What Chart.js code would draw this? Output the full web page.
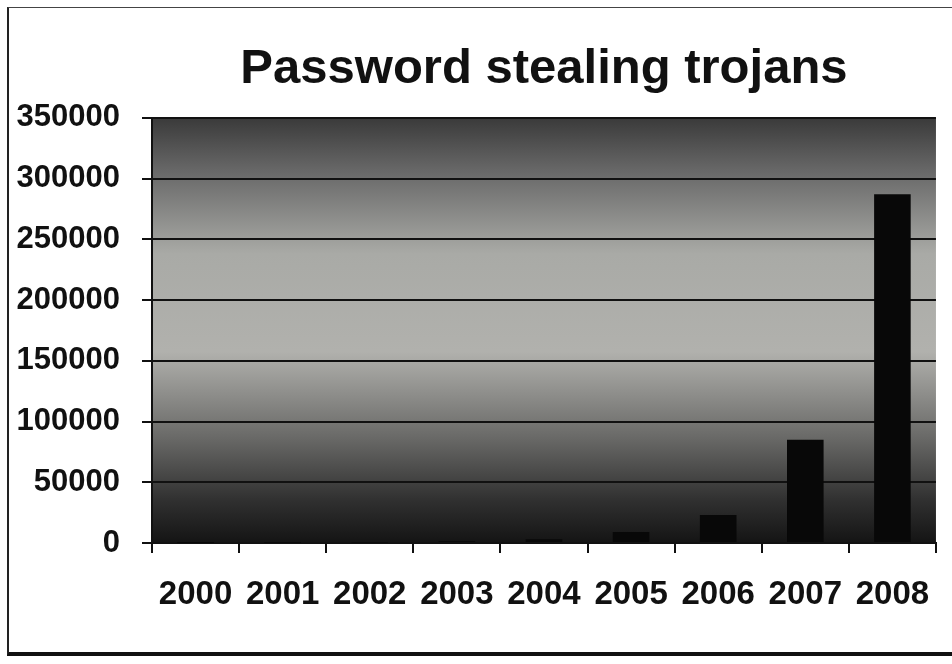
<!DOCTYPE html>
<html>
<head>
<meta charset="utf-8">
<script src="https://cdn.jsdelivr.net/npm/chart.js@4/dist/chart.umd.min.js"></script>
<style>
  html, body { margin: 0; padding: 0; background: #fff; }
  #wrap { position: relative; width: 952px; height: 664px; }
  #frame {
    position: absolute; left: 7px; top: 7px; width: 960px; height: 644px;
    border-left: 2px solid #222; border-top: 1px solid #444; border-bottom: 4px solid #111;
    pointer-events: none;
  }
</style>
</head>
<body>
<div id="wrap">
  <canvas id="chart"></canvas>
  <div id="frame"></div>
</div>
<script>
const years = ["2000", "2001", "2002", "2003", "2004", "2005", "2006", "2007", "2008"];
const trojans = [100, 200, 500, 1500, 3000, 9000, 23000, 85000, 287000];
const yTicks = [0, 50000, 100000, 150000, 200000, 250000, 300000, 350000];

const plotBackground = {
  id: "plotBackground",
  beforeDraw(chart) {
    const { ctx, chartArea: a } = chart;
    const g = ctx.createLinearGradient(0, a.top, 0, a.bottom);
    g.addColorStop(0, "#3a3a3a");
    g.addColorStop(0.12, "#666666");
    g.addColorStop(0.32, "#a9aaa6");
    g.addColorStop(0.55, "#b1b1ad");
    g.addColorStop(0.75, "#6a6a68");
    g.addColorStop(0.9, "#303030");
    g.addColorStop(1, "#141414");
    ctx.save();
    ctx.fillStyle = g;
    ctx.fillRect(a.left, a.top, a.right - a.left, a.bottom - a.top);
    ctx.restore();
  },
};

new Chart(document.getElementById("chart"), {
  type: "bar",
  data: {
    labels: years,
    datasets: [
      {
        label: "Password stealing trojans",
        data: trojans,
        backgroundColor: "#080808",
        barPercentage: 0.42,
        categoryPercentage: 1,
      },
    ],
  },
  options: {
    responsive: true,
    maintainAspectRatio: false,
    animation: false,
    layout: { padding: { left: 0, right: 7, top: 0, bottom: 0 } },
    plugins: {
      legend: { display: false },
      tooltip: { enabled: false },
      title: {
        display: true,
        fullSize: false,
        text: "Password stealing trojans",
        color: "#111",
        font: { family: "Liberation Sans, Arial, sans-serif", size: 49, weight: "bold" },
        padding: { top: 40, bottom: 19 },
      },
    },
    scales: {
      x: {
        grid: {
          offset: true,
          drawOnChartArea: false,
          color: "#111",
          lineWidth: 2,
          tickLength: 10,
        },
        border: { color: "#111", width: 2 },
        ticks: {
          color: "#111",
          padding: 22,
          font: { family: "Liberation Sans, Arial, sans-serif", size: 33, weight: "bold" },
        },
        afterFit: (s) => { s.height = 121; },
      },
      y: {
        min: 0,
        max: 350000,
        afterBuildTicks: (s) => { s.ticks = yTicks.map((v) => ({ value: v })); },
        grid: {
          color: "#111",
          lineWidth: 2,
          tickLength: 10,
        },
        border: { color: "#111", width: 2 },
        ticks: {
          color: "#111",
          padding: 22,
          callback: (v) => String(v),
          font: { family: "Liberation Sans, Arial, sans-serif", size: 31, weight: "bold" },
        },
        afterFit: (s) => { s.width = 152; },
      },
    },
  },
  plugins: [plotBackground],
});
</script>
</body>
</html>
